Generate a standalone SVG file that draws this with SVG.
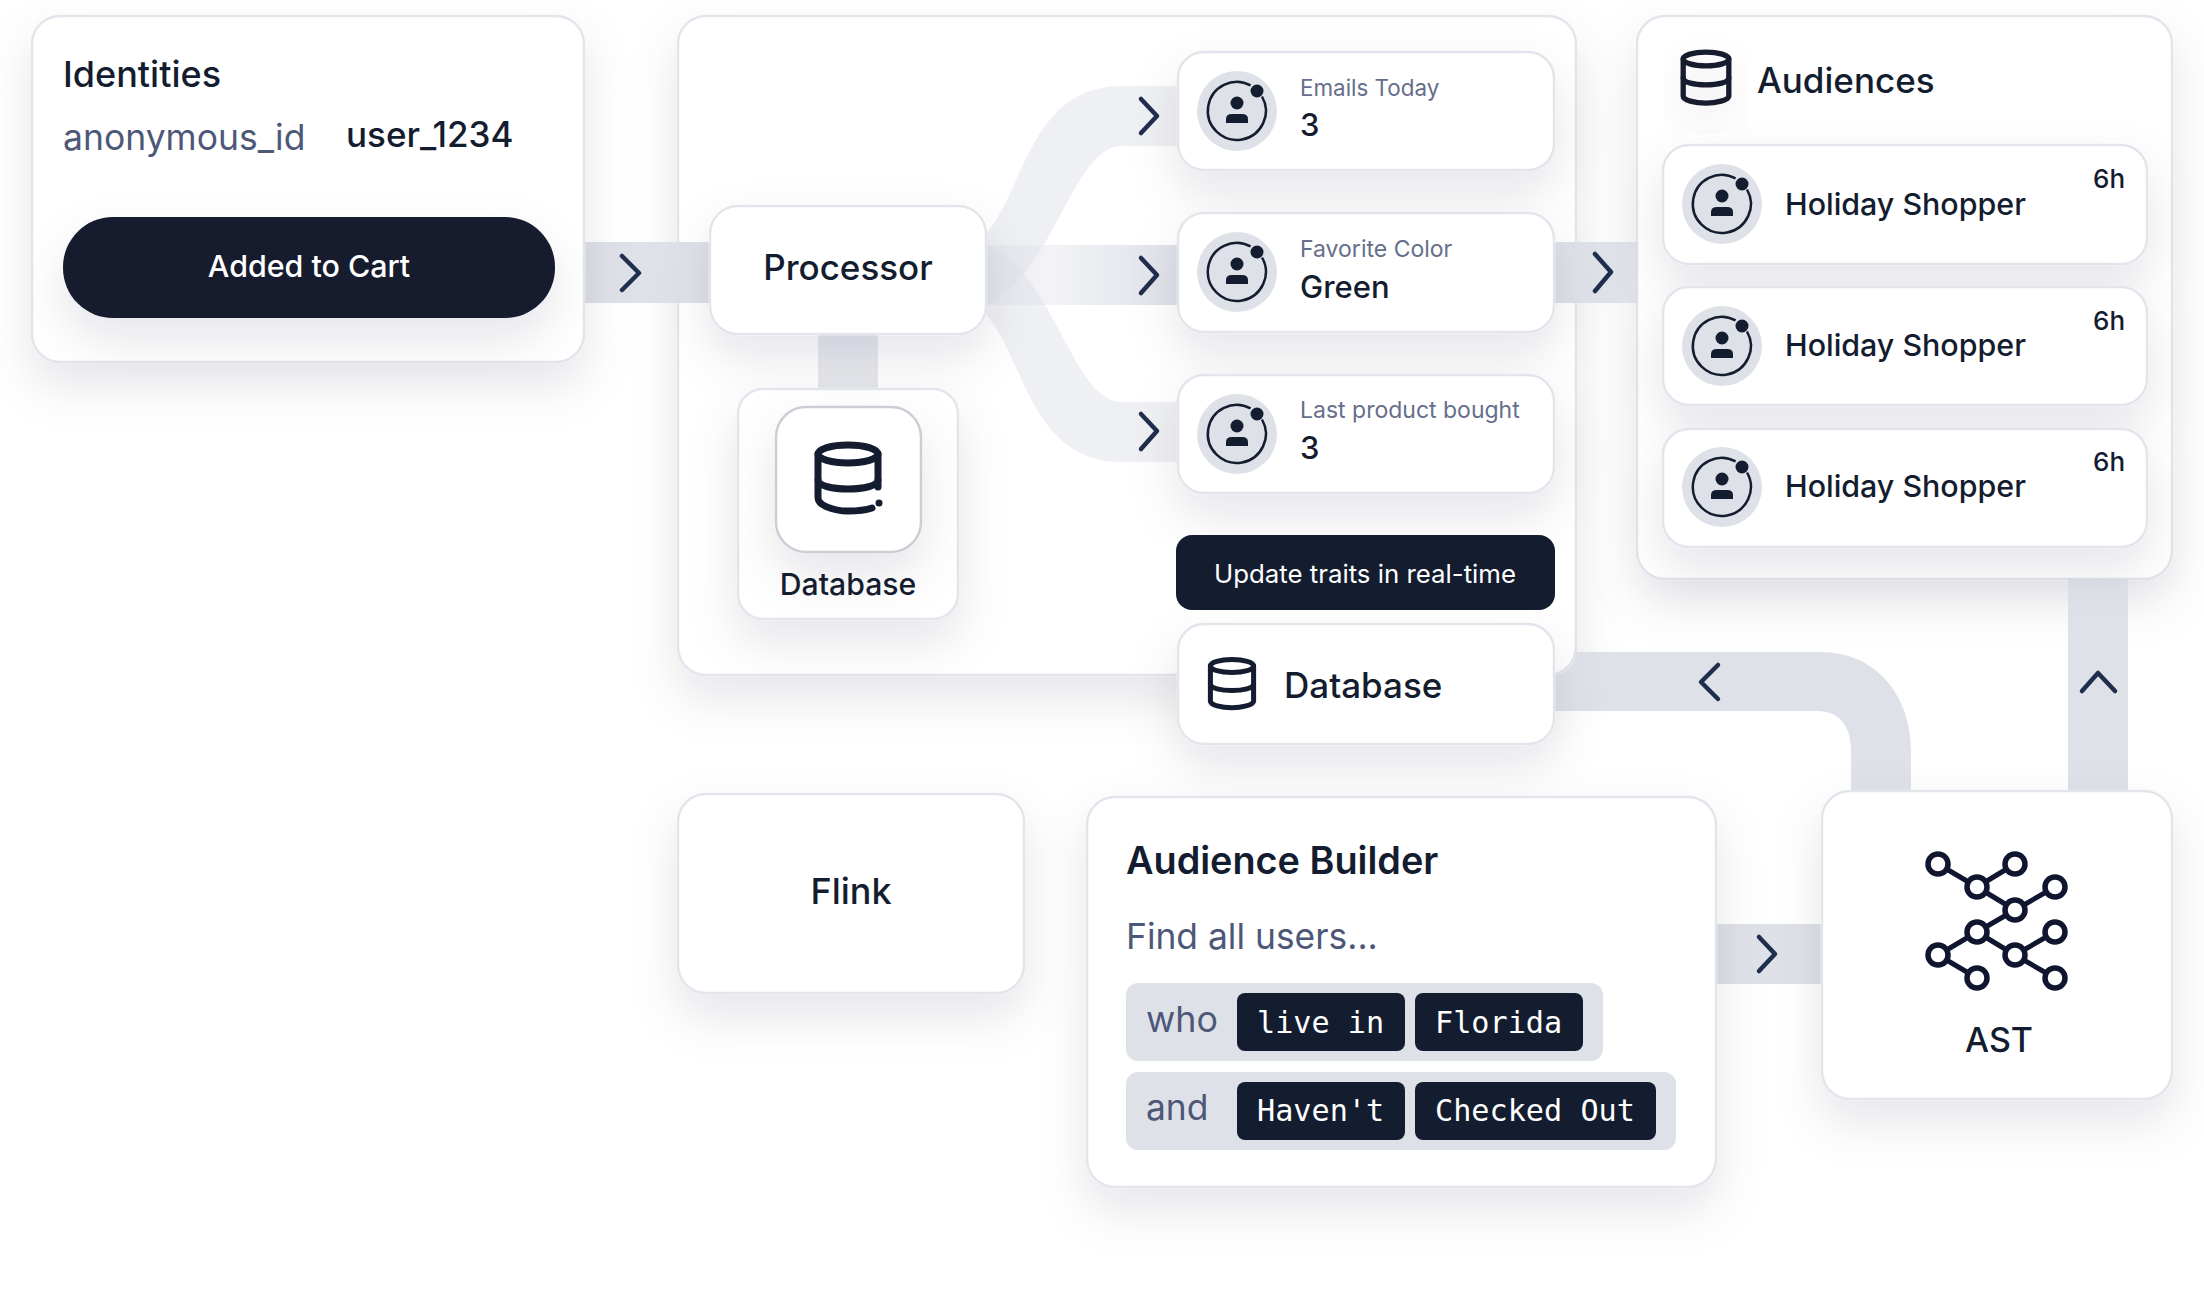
<svg xmlns="http://www.w3.org/2000/svg" xmlns:xlink="http://www.w3.org/1999/xlink" width="2204" height="1314" viewBox="0 0 2204 1314">
<style>
text{font-family:Inter,"Noto Sans","Liberation Sans",sans-serif;fill:#141d2f;font-weight:500}
.card{fill:#fff;stroke:#e3e5ed;stroke-width:2.5}
.dark{fill:#141d2f}
.band{fill:#dfe1e9}
.soft{fill:#dfe1e9;fill-opacity:.5}
.chev{fill:none;stroke:#1f2e4d;stroke-width:4.5;stroke-linecap:round;stroke-linejoin:round}
.mute{fill:#4d5878;font-weight:400}
.lab{fill:#656e8a;font-weight:400}
.val{font-size:31px}
.hs{font-size:30.4px}
.six{font-size:26px}
.mono{font-family:"DejaVu Sans Mono",monospace;font-size:30.2px;fill:#fff;font-weight:400}
.chip{fill:#141d2f}
.row{fill:#dfe1e9}
.mid{text-anchor:middle}
.net{fill:#fff;stroke:#101530;stroke-width:5.5}
.netl{stroke:#101530;stroke-width:5;fill:none}
</style>
<defs>
<filter id="sh" x="-40%" y="-40%" width="180%" height="200%"><feDropShadow dx="0" dy="22" stdDeviation="24" flood-color="#1a2340" flood-opacity="0.1"/></filter>
<linearGradient id="midg" x1="0" x2="1" y1="0" y2="0"><stop offset="0" stop-color="#dfe1e9" stop-opacity=".5"/><stop offset="0.35" stop-color="#dfe1e9" stop-opacity=".4"/><stop offset="1" stop-color="#dfe1e9"/></linearGradient>
<g id="avatar">
<circle r="40" fill="#dfe1e9"/>
<path d="M25 -14.5A29 29 0 1 1 13.6 -25.6" fill="none" stroke="#141d2f" stroke-width="2.5"/>
<circle cx="20" cy="-20" r="6.5" fill="#141d2f"/>
<circle cx="0" cy="-8" r="6.5" fill="#141d2f"/>
<path d="M-11 12V8Q-11 3 -5 3H5Q11 3 11 8V12Z" fill="#141d2f"/>
</g>
<g id="dbi" fill="none" stroke="#141d2f" stroke-width="7" stroke-linecap="round">
<ellipse cx="0" cy="-25" rx="30" ry="9"/>
<path d="M-30 -25V24C-30 29 -15 33 0 33C13 33 30 29 30 24V-25"/>
<path d="M-30 0C-30 6 -15 9 0 9C15 9 30 6 30 0"/>
</g>
</defs>
<rect width="2204" height="1314" fill="#fff"/>

<g id="panel-main"><rect class="card" x="678" y="16" width="898" height="659" rx="28" filter="url(#sh)"/></g>
<g id="panel-audiences"><rect class="card" x="1637" y="16" width="535" height="563" rx="28" filter="url(#sh)"/></g>

<g id="connectors">
<rect class="band" x="584" y="242" width="130" height="61"/>
<rect class="band" x="1554" y="242" width="84" height="61"/>
<path class="soft" d="M985 235C1025 190 1030 86 1122 86H1180V146H1122C1072 146 1055 275 985 305Z"/>
<path class="soft" d="M985 313C1025 358 1030 462 1122 462H1180V402H1122C1072 402 1055 273 985 243Z"/>
<rect x="985" y="245" width="195" height="60" fill="url(#midg)"/>
<rect x="818" y="334" width="60" height="58" fill="#e6e8ed"/>
<path class="band" d="M1576 652H1820C1880 652 1911 700 1911 750V795H1851V750C1851 725 1838 711 1818 711H1550V675H1554C1566 675 1576 664 1576 652Z"/>
<rect class="band" x="2068" y="578" width="60" height="215"/>
<rect class="band" x="1715" y="924" width="110" height="60"/>
<path class="chev" d="M622 256L639 273L622 290"/>
<path class="chev" d="M1141 99L1157 116L1141 133"/>
<path class="chev" d="M1141 258L1157 275L1141 293"/>
<path class="chev" d="M1141 414L1157 431L1141 449"/>
<path class="chev" d="M1595 254L1611 272L1595 291"/>
<path class="chev" d="M1718 665L1701 682L1718 699"/>
<path class="chev" d="M2082 691L2098 673L2115 691"/>
<path class="chev" d="M1759 937L1775 954L1759 971"/>
</g>

<g id="identities">
<rect class="card" x="32" y="16" width="552" height="346" rx="28" filter="url(#sh)"/>
<text x="63" y="87" font-size="36">Identities</text>
<text x="63" y="150" font-size="35.5" class="mute">anonymous_id</text>
<text x="346" y="147" font-size="35">user_1234</text>
<rect class="dark" x="63" y="217" width="492" height="101" rx="50" filter="url(#sh)"/>
<text x="309" y="277" font-size="30.4" class="mid" style="fill:#fff">Added to Cart</text>
</g>

<g id="processor">
<rect class="card" x="710" y="206" width="276" height="128" rx="28" filter="url(#sh)"/>
<text x="848" y="280" font-size="35" class="mid">Processor</text>
</g>

<g id="database-inner">
<rect class="card" x="738" y="389" width="220" height="230" rx="25" filter="url(#sh)"/>
<rect x="776" y="407" width="145" height="145" rx="30" fill="#fff" stroke="#cfccd6" stroke-width="2.5" filter="url(#sh)"/>
<g fill="none" stroke="#141d2f" stroke-width="7" stroke-linecap="round">
<ellipse cx="848" cy="454" rx="30" ry="9"/>
<path d="M818 454V498C818 505 833 511 848 511C858 511 866 510 872 508"/>
<path d="M878 454V487"/>
<path d="M818 480C818 486 833 489 848 489C863 489 878 486 878 480"/>
</g>
<circle cx="879" cy="503" r="3.5" fill="#141d2f"/>
<text x="848" y="595" font-size="30.2" class="mid">Database</text>
</g>

<g id="emails-today">
<rect class="card" x="1178" y="52" width="376" height="118" rx="26" filter="url(#sh)"/>
<use href="#avatar" x="1237" y="111"/>
<text x="1300" y="96" font-size="22.4" class="lab">Emails Today</text>
<text x="1300" y="136" class="val">3</text>
</g>
<g id="favorite-color">
<rect class="card" x="1178" y="213" width="376" height="119" rx="26" filter="url(#sh)"/>
<use href="#avatar" x="1237" y="272"/>
<text x="1300" y="257" font-size="23" class="lab">Favorite Color</text>
<text x="1300" y="298" class="val">Green</text>
</g>
<g id="last-product">
<rect class="card" x="1178" y="375" width="376" height="118" rx="26" filter="url(#sh)"/>
<use href="#avatar" x="1237" y="434"/>
<text x="1300" y="418" font-size="23" class="lab">Last product bought</text>
<text x="1300" y="459" class="val">3</text>
</g>

<g id="update-traits">
<rect class="dark" x="1176" y="535" width="379" height="75" rx="16"/>
<text x="1365" y="583" font-size="25.8" class="mid" style="fill:#fff;font-weight:400">Update traits in real-time</text>
</g>

<g id="database-store">
<rect class="card" x="1178" y="624" width="376" height="120" rx="26" filter="url(#sh)"/>
<use href="#dbi" transform="translate(1232 684) scale(0.72)"/>
<text x="1284" y="698" font-size="35">Database</text>
</g>

<g id="audiences">
<use href="#dbi" transform="translate(1706 78) scale(0.76)" filter="url(#sh)"/>
<text x="1757" y="93" font-size="35">Audiences</text>
</g>
<g id="holiday-1">
<rect class="card" x="1663" y="145" width="484" height="119" rx="26" filter="url(#sh)"/>
<use href="#avatar" x="1722" y="204"/>
<text x="1785" y="215" class="hs">Holiday Shopper</text>
<text x="2093" y="188" class="six">6h</text>
</g>
<g id="holiday-2">
<rect class="card" x="1663" y="287" width="484" height="118" rx="26" filter="url(#sh)"/>
<use href="#avatar" x="1722" y="346"/>
<text x="1785" y="356" class="hs">Holiday Shopper</text>
<text x="2093" y="330" class="six">6h</text>
</g>
<g id="holiday-3">
<rect class="card" x="1663" y="429" width="484" height="118" rx="26" filter="url(#sh)"/>
<use href="#avatar" x="1722" y="487"/>
<text x="1785" y="497" class="hs">Holiday Shopper</text>
<text x="2093" y="471" class="six">6h</text>
</g>

<g id="flink">
<rect class="card" x="678" y="794" width="346" height="199" rx="28" filter="url(#sh)"/>
<text x="851" y="904" font-size="36" class="mid">Flink</text>
</g>

<g id="audience-builder">
<rect class="card" x="1087" y="797" width="629" height="390" rx="28" filter="url(#sh)"/>
<text x="1126" y="874" font-size="37.8" style="font-weight:600">Audience Builder</text>
<text x="1126" y="949" font-size="35.4" class="mute">Find all users...</text>
<rect class="row" x="1126" y="983" width="477" height="78" rx="12"/>
<rect class="row" x="1126" y="1072" width="550" height="78" rx="12"/>
<text x="1146" y="1032" font-size="35.8" class="mute">who</text>
<text x="1146" y="1120" font-size="35.4" class="mute">and</text>
<rect class="chip" x="1237" y="993" width="168" height="58" rx="8"/>
<rect class="chip" x="1415" y="993" width="168" height="58" rx="8"/>
<rect class="chip" x="1237" y="1082" width="168" height="58" rx="8"/>
<rect class="chip" x="1415" y="1082" width="241" height="58" rx="8"/>
<text x="1257" y="1033" class="mono">live in</text>
<text x="1435" y="1033" class="mono">Florida</text>
<text x="1257" y="1121" class="mono">Haven't</text>
<text x="1435" y="1121" class="mono">Checked Out</text>
</g>

<g id="ast">
<rect class="card" x="1822" y="791" width="350" height="308" rx="28" filter="url(#sh)"/>
<path class="netl" d="M1938 864L1977 887L2015 864M1977 887L2015 910L2055 887M2015 910L1977 932L1938 955L1977 978M1977 932L2015 955L2055 932M2015 955L2055 978"/>
<circle class="net" cx="1938" cy="864" r="10"/><circle class="net" cx="2015" cy="864" r="10"/>
<circle class="net" cx="1977" cy="887" r="10"/><circle class="net" cx="2055" cy="887" r="10"/>
<circle class="net" cx="2015" cy="910" r="10"/><circle class="net" cx="1977" cy="932" r="10"/>
<circle class="net" cx="2055" cy="932" r="10"/><circle class="net" cx="1938" cy="955" r="10"/>
<circle class="net" cx="2015" cy="955" r="10"/><circle class="net" cx="1977" cy="978" r="10"/>
<circle class="net" cx="2055" cy="978" r="10"/>
<text x="1999" y="1052" font-size="34" class="mid">AST</text>
</g>
</svg>
